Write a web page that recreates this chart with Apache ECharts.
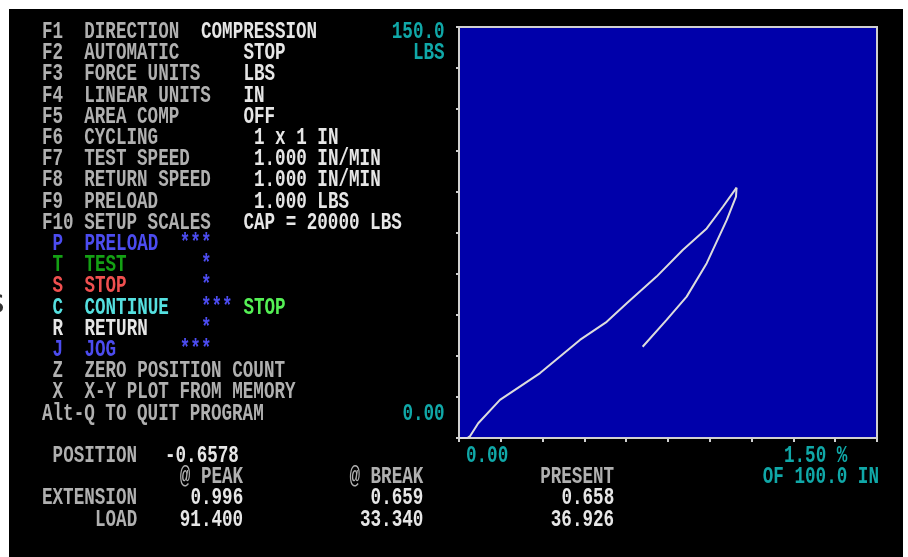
<!DOCTYPE html>
<html>
<head>
<meta charset="utf-8">
<script src="https://cdn.jsdelivr.net/npm/echarts@6/dist/echarts.min.js"></script>
<style>
html,body{margin:0;padding:0;background:#ffffff;}
#c{width:908px;height:557px;}
</style>
</head>
<body>
<div id="c"></div>
<script>
// ---- Data (extension in IN, load in LBS) ----
var loadExt   = [0.00, 0.03, 0.04, 0.069, 0.147, 0.291, 0.434, 0.530, 0.602, 0.709, 0.803, 0.889, 0.947, 0.996];
var loadLbs   = [0.0, 0.0, 0.7, 5.4, 13.9, 23.7, 35.8, 42.4, 49.2, 58.9, 68.6, 76.5, 84.4, 91.4];
var unloadExt = [0.996, 0.994, 0.961, 0.889, 0.817, 0.745, 0.659];
var unloadLbs = [91.4, 88.1, 79.6, 63.8, 51.6, 43.1, 33.3];

var xMin = 0, xMax = 1.5, xStep = 0.15;
var yMin = 0, yMax = 150, yStep = 15;

// axis captions
var yTopLabel = ['150.0', 'LBS'];
var yBottomLabel = '0.00';
var xLeftLabel = '0.00';
var xRightLabel = ['1.50 %', 'OF 100.0 IN'];

// ---- Screen text (row, col, text, colour key) ----
var menuLines = [
  [0, 0, 'F1  DIRECTION', 'g'], [0, 15, 'COMPRESSION', 'w'],
  [1, 0, 'F2  AUTOMATIC', 'g'], [1, 19, 'STOP', 'w'],
  [2, 0, 'F3  FORCE UNITS', 'g'], [2, 19, 'LBS', 'w'],
  [3, 0, 'F4  LINEAR UNITS', 'g'], [3, 19, 'IN', 'w'],
  [4, 0, 'F5  AREA COMP', 'g'], [4, 19, 'OFF', 'w'],
  [5, 0, 'F6  CYCLING', 'g'], [5, 20, '1 x 1 IN', 'w'],
  [6, 0, 'F7  TEST SPEED', 'g'], [6, 20, '1.000 IN/MIN', 'w'],
  [7, 0, 'F8  RETURN SPEED', 'g'], [7, 20, '1.000 IN/MIN', 'w'],
  [8, 0, 'F9  PRELOAD', 'g'], [8, 20, '1.000 LBS', 'w'],
  [9, 0, 'F10 SETUP SCALES', 'g'], [9, 19, 'CAP = 20000 LBS', 'w'],
  [10, 1, 'P', 'b'], [10, 4, 'PRELOAD', 'b'], [10, 13, '***', 'b'],
  [11, 1, 'T', 'dg'], [11, 4, 'TEST', 'dg'], [11, 15, '*', 'b'],
  [12, 1, 'S', 'r'], [12, 4, 'STOP', 'r'], [12, 15, '*', 'b'],
  [13, 1, 'C', 'lc'], [13, 4, 'CONTINUE', 'lc'], [13, 15, '***', 'b'], [13, 19, 'STOP', 'lg'],
  [14, 1, 'R', 'w'], [14, 4, 'RETURN', 'w'], [14, 15, '*', 'b'],
  [15, 1, 'J', 'b'], [15, 4, 'JOG', 'b'], [15, 13, '***', 'b'],
  [16, 1, 'Z', 'g'], [16, 4, 'ZERO POSITION COUNT', 'g'],
  [17, 1, 'X', 'g'], [17, 4, 'X-Y PLOT FROM MEMORY', 'g'],
  [18, 0, 'Alt-Q TO QUIT PROGRAM', 'g']
];
var readoutLines = [
  [20, 1, 'POSITION', 'g'], [20, 11.6, '-0.6578', 'w'],
  [21, 13, '@ PEAK', 'g'], [21, 29, '@ BREAK', 'g'], [21, 47, 'PRESENT', 'g'],
  [22, 0, 'EXTENSION', 'g'], [22, 14, '0.996', 'w'], [22, 31, '0.659', 'w'], [22, 49, '0.658', 'w'],
  [23, 5, 'LOAD', 'g'], [23, 13, '91.400', 'w'], [23, 30, '33.340', 'w'], [23, 48, '36.926', 'w']
];

var palette = {
  g: '#b0b0b0', w: '#e6e6e6', b: '#4c4cf0', dg: '#14a014', r: '#f05050',
  lc: '#55e0e0', lg: '#55f055', c: '#10a8a8'
};

var COL0 = 42, COLW = 10.6, ROW0 = 32, ROWH = 21.2;
var FONT = 'bold 17.6px "Liberation Mono"';

function txt(row, col, s, key) {
  return {
    type: 'text', z: 10, silent: true,
    x: COL0 + COLW * col, y: ROW0 + ROWH * row, scaleY: 1.36,
    style: { text: s, x: 0, y: 0, fill: palette[key], font: FONT,
      textAlign: 'left', textVerticalAlign: 'middle', align: 'left', verticalAlign: 'middle' }
  };
}

var graphics = [
  { type: 'rect', z: -10, silent: true, shape: { x: 9, y: 9, width: 894, height: 560 }, style: { fill: '#000000' } },
  { type: 'text', z: 10, silent: true, x: -13, y: 304,
    style: { text: 's', x: 0, y: 0, fill: '#333333', font: '34px "DejaVu Sans"',
      textVerticalAlign: 'middle', verticalAlign: 'middle' } }
];
menuLines.concat(readoutLines).forEach(function (t) { graphics.push(txt(t[0], t[1], t[2], t[3])); });
graphics.push(txt(0, 33, yTopLabel[0], 'c'));
graphics.push(txt(1, 35, yTopLabel[1], 'c'));
graphics.push(txt(18, 34, yBottomLabel, 'c'));
graphics.push(txt(20, 40, xLeftLabel, 'c'));
graphics.push(txt(20, 70, xRightLabel[0], 'c'));
graphics.push(txt(21, 68, xRightLabel[1], 'c'));

function pairs(xs, ys) { return xs.map(function (x, i) { return [x, ys[i]]; }); }

var chart = echarts.init(document.getElementById('c'), null, { renderer: 'canvas' });
chart.setOption({
  backgroundColor: 'transparent',
  animation: false,
  grid: {
    show: true, left: 459, right: 31, top: 27, bottom: 119,
    backgroundColor: '#0000aa', borderColor: '#d0d0d0', borderWidth: 2
  },
  xAxis: {
    type: 'value', min: xMin, max: xMax, interval: xStep,
    axisLine: { show: true, lineStyle: { color: '#d0d0d0', width: 2 } },
    axisTick: { show: true, inside: false, length: 4, lineStyle: { color: '#d0d0d0', width: 2 } },
    axisLabel: { show: false }, splitLine: { show: false }
  },
  yAxis: {
    type: 'value', min: yMin, max: yMax, interval: yStep,
    axisLine: { show: true, lineStyle: { color: '#d0d0d0', width: 2 } },
    axisTick: { show: true, inside: false, length: 3, lineStyle: { color: '#d0d0d0', width: 2 } },
    axisLabel: { show: false }, splitLine: { show: false }
  },
  series: [
    { type: 'line', data: pairs(loadExt, loadLbs), showSymbol: false, smooth: false,
      lineStyle: { color: '#dcdcdc', width: 2 } },
    { type: 'line', data: pairs(unloadExt, unloadLbs), showSymbol: false, smooth: false,
      lineStyle: { color: '#dcdcdc', width: 2 } }
  ],
  graphic: graphics
});
</script>
</body>
</html>
